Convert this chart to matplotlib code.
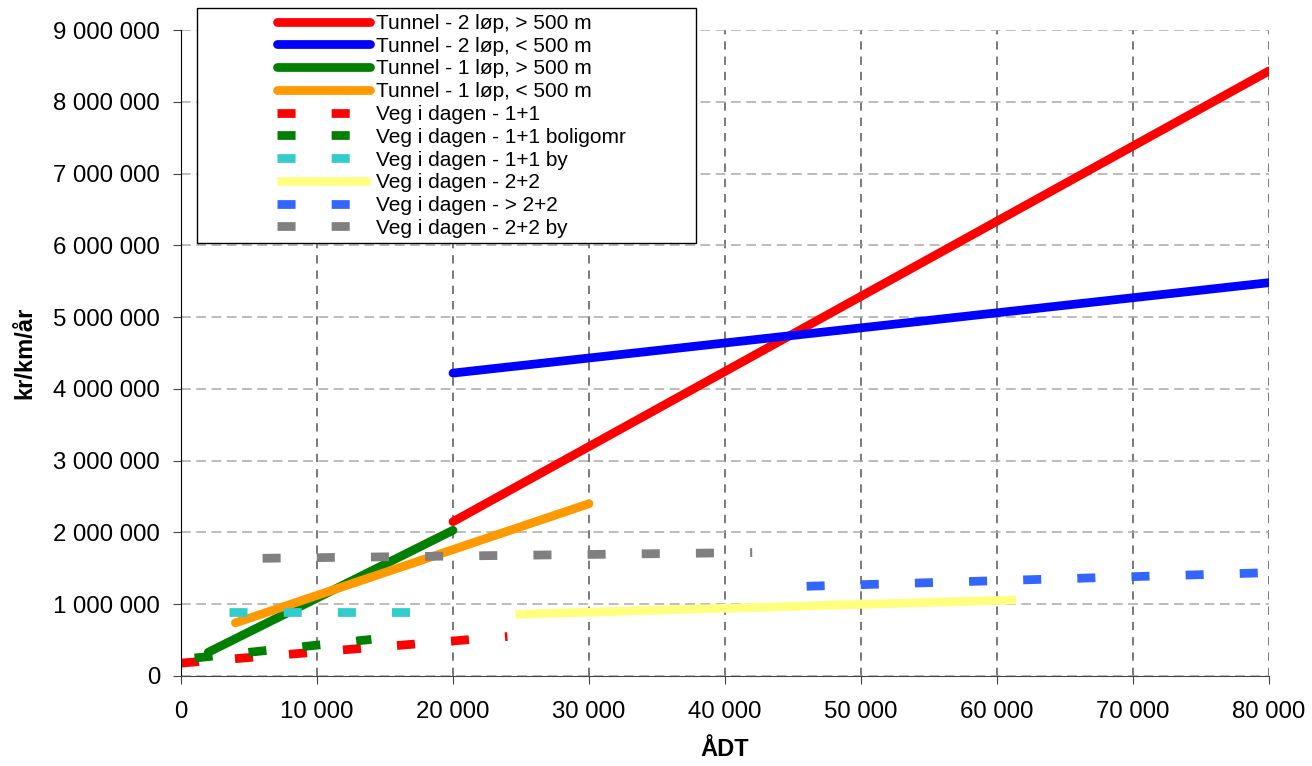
import matplotlib
matplotlib.use("Agg")
import matplotlib.pyplot as plt
from matplotlib.patches import Rectangle
from matplotlib.ticker import FuncFormatter, MultipleLocator

plt.rcParams['font.family'] = ['Liberation Sans', 'DejaVu Sans']
plt.rcParams['lines.scale_dashes'] = False

# kostnad per km og år mot ÅDT, hver serie gitt ved endepunktene
labels = ["Tunnel - 2 løp, > 500 m", "Tunnel - 2 løp, < 500 m",
          "Tunnel - 1 løp, > 500 m", "Tunnel - 1 løp, < 500 m",
          "Veg i dagen - 1+1", "Veg i dagen - 1+1 boligomr",
          "Veg i dagen - 1+1 by", "Veg i dagen - 2+2",
          "Veg i dagen - > 2+2", "Veg i dagen - 2+2 by"]
adt = [[20000, 80000], [20000, 80000], [2000, 20000], [4000, 30000],
       [0, 24000], [1000, 14000], [3500, 17000], [24600, 61400],
       [46000, 80000], [6000, 42000]]
cost = [[2150000, 8430000], [4220000, 5480000], [330000, 2030000],
        [740000, 2400000], [180000, 550000], [250000, 510000],
        [890000, 890000], [860000, 1060000], [1250000, 1440000],
        [1640000, 1720000]]

colors = ['#ff0000', '#0000ff', '#008000', '#ff9900', '#ff0000',
          '#008000', '#33cccc', '#ffff80', '#3366ff', '#808080']
dashed = [False, False, False, False, True, True, True, False, True, True]
lw = 6.3

fig = plt.figure(figsize=(13.12, 7.66), dpi=100)
W, H = 1312, 766
ax = fig.add_axes([181 / W, 1 - 676 / H, (1269 - 181) / W, (676 - 30) / H])

handles = []
for i in range(len(labels)):
    if dashed[i]:
        ln, = ax.plot(adt[i], cost[i], color=colors[i], lw=lw,
                      linestyle=(0, (13, 26)), dash_capstyle='butt')
    elif colors[i] == '#ffff80':
        ln, = ax.plot(adt[i], cost[i], color=colors[i], lw=lw,
                      solid_capstyle='butt')
    else:
        ln, = ax.plot(adt[i], cost[i], color=colors[i], lw=lw,
                      solid_capstyle='round')
    handles.append(ln)

ax.set_xlim(0, 80000)
ax.set_ylim(0, 9000000)
ax.xaxis.set_major_locator(MultipleLocator(10000))
ax.yaxis.set_major_locator(MultipleLocator(1000000))
fmt = FuncFormatter(lambda v, p: f"{int(v):,}".replace(",", " "))
ax.xaxis.set_major_formatter(fmt)
ax.yaxis.set_major_formatter(fmt)

ax.set_axisbelow(True)
ax.grid(axis='x', color='#555555', lw=1.1, linestyle=(0, (6, 5)))
ax.grid(axis='y', color='#aaaaaa', lw=1.1, linestyle=(0, (7, 4)))

for s in ['top', 'right']:
    ax.spines[s].set_visible(False)
ax.spines['left'].set_color('black')
ax.spines['bottom'].set_color('#444444')
ax.tick_params(axis='both', labelsize=17.3, length=6, color='#444444')
ax.tick_params(axis='y', pad=9)
ax.tick_params(axis='x', pad=12)

ax.set_xlabel("ÅDT", fontsize=17, fontweight='bold', labelpad=11)
ax.set_ylabel("kr/km/år", fontsize=17, fontweight='bold', labelpad=12)

# legend frame drawn separately so the entries can sit right of its edge
fig.add_artist(Rectangle((197 / W, 1 - 243 / H), (696 - 197) / W, (243 - 8) / H,
                         transform=fig.transFigure, fc='white', ec='black',
                         lw=1, zorder=4))
fig.legend(handles, labels, loc='upper left',
           bbox_to_anchor=(277 / W, 1 - 14 / H), frameon=False,
           fontsize=15, handlelength=4.46, handletextpad=0.3,
           labelspacing=0.18, borderpad=0, borderaxespad=0)

fig.savefig("out.png", dpi=100)
